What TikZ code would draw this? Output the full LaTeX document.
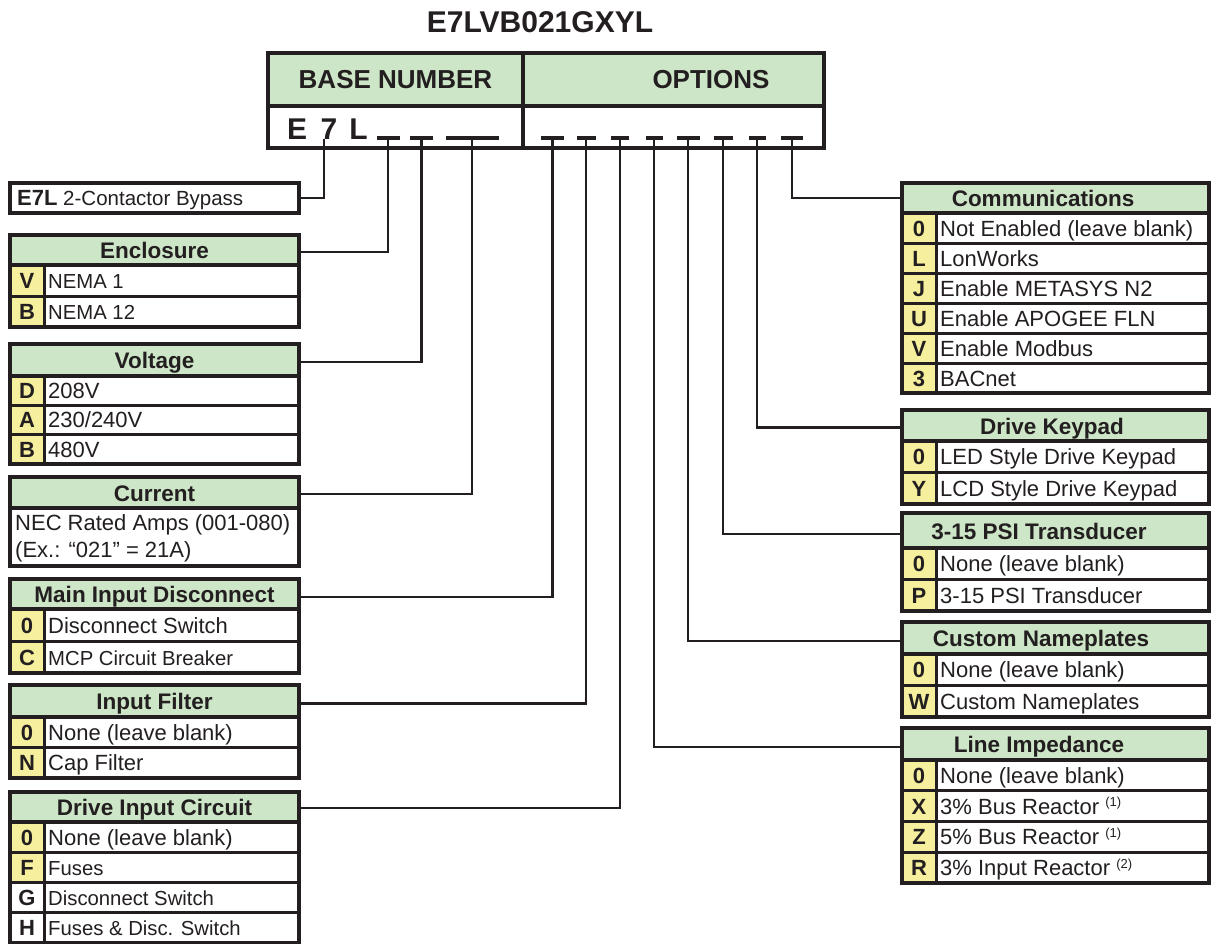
\documentclass[tikz,border=0pt]{standalone}
\usepackage{fontspec}
\setmainfont{Liberation Sans}
\definecolor{ink}{RGB}{35,31,32}
\definecolor{hdrgreen}{RGB}{205,230,199}
\definecolor{keyyellow}{RGB}{246,240,158}
\newcommand{\rowsm}{\fontsize{20.3}{24}\selectfont}
\newcommand{\fnote}[1]{\raisebox{7.5pt}{\fontsize{13}{13}\selectfont(#1)}}
\tikzset{
  frame/.style={draw=ink, line width=4pt},
  sep/.style={draw=ink, line width=3pt},
  wire/.style={draw=ink, line width=2.6pt},
  tick/.style={draw=ink, line width=3.5pt},
  hdrbox/.style={fill=hdrgreen, inner sep=0pt, outer sep=0pt, anchor=north west},
  hdrtext/.style={text=ink, inner sep=0pt, font=\bfseries\fontsize{22.5}{26}\selectfont},
  keytext/.style={text=ink, inner sep=0pt, font=\bfseries\fontsize{22}{26}\selectfont},
  rowtext/.style={text=ink, inner sep=0pt, font=\fontsize{22}{26}\selectfont},
}
% #1 name, #2 left, #3 right, #4 top, #5 header height, #6 row height,
% #7 title, #8 title centre x, #9 rows as key/text/keycolour
\newcommand{\opttable}[9]{%
  \node[hdrbox, minimum width={#3-#2}, minimum height={#5}] (#1) at (#2,#4) {};
  \node[hdrtext, anchor=base] (#1-title) at (#8,{#4+#5/2+8.5}) {#7};
  \foreach[count=\i] \keyk/\rowt/\keyc in {#9}{%
    \pgfmathsetmacro\ya{#4+#5+(\i-1)*#6}
    \pgfmathsetmacro\yb{\ya+#6}
    \pgfmathsetmacro\ym{(\ya+\yb)/2+8}
    \fill[\keyc] (#2,\ya) rectangle ({#2+34},\yb);
    \node[keytext, anchor=base] (#1-key\i) at ({#2+17},\ym) {\keyk};
    \node[rowtext, anchor=base west] (#1-row\i) at ({#2+38},\ym) {\rowt};
    \draw[sep] (#2,\ya) -- (#3,\ya);
    \draw[sep] ({#2+34},\ya) -- ({#2+34},\yb);
    \xdef\nrows{\i}
  }
  \draw[frame] (#2,{#4+#5}) -- (#3,{#4+#5});
  \draw[frame] (#2,#4) rectangle (#3,{#4+#5+\nrows*#6});
}
\begin{document}
\begin{tikzpicture}[x=1pt, y=-1pt]
\useasboundingbox (0,0) rectangle (1212,944);
\fill[white] (0,0) rectangle (1212,944);

% model code title
\node[text=ink, inner sep=0pt, font=\bfseries\fontsize{30}{34}\selectfont] (code) at (540,22) {E7LVB021GXYL};

% base number / options box
\node[hdrbox, minimum width=255, minimum height=53] (hbase) at (268,53) {};
\node[hdrbox, minimum width=301, minimum height=53] (hopt) at (523,53) {};
\node[text=ink, inner sep=0pt, anchor=base, font=\bfseries\fontsize{26}{30}\selectfont] (hbase-t) at (395.5,89) {BASE NUMBER};
\node[text=ink, inner sep=0pt, anchor=base, font=\bfseries\fontsize{26}{30}\selectfont] (hopt-t) at (711,89) {OPTIONS};
\node[text=ink, inner sep=0pt, anchor=base west, font=\bfseries\fontsize{30}{34}\selectfont] (base) at (287,140) {E\hspace{0.45em}7\hspace{0.4em}L};
\draw[frame] (268,106) -- (824,106);
\draw[frame] (523,53) -- (523,148);
\draw[frame, line width=4.5pt] (268,53) rectangle (824,148);

% connector start points (one per code position)
\coordinate (p-e7l)  at (324,139);
\coordinate (p-enc)  at (388,138);
\coordinate (p-volt) at (421.5,138);
\coordinate (p-cur)  at (472,138);
\coordinate (p-mid)  at (552.5,138);
\coordinate (p-filt) at (586,138);
\coordinate (p-dic)  at (620,138);
\coordinate (p-limp) at (654,138);
\coordinate (p-cust) at (688,138);
\coordinate (p-psi)  at (723,138);
\coordinate (p-kpd)  at (757,138);
\coordinate (p-comm) at (792,138);

% blanks under the code positions
\foreach \p/\hw in {enc/11.5, volt/11.5, cur/26.5, mid/11.5, filt/9.5, dic/9, limp/8.5, cust/11.5, psi/9.5, kpd/8.5, comm/11}{
  \draw[tick] ([xshift=-\hw pt]p-\p) -- ([xshift=\hw pt]p-\p);
}

% E7L box
\node[inner sep=0pt, outer sep=0pt, anchor=north west, minimum width=289, minimum height=30] (e7l) at (10,183) {};
\node[text=ink, inner sep=0pt, anchor=base west, font=\fontsize{20.5}{24}\selectfont] (e7l-t) at (17,205.5) {\textbf{\fontsize{22}{26}\selectfont E7L} 2-Contactor Bypass};
\draw[frame] (e7l.north west) rectangle (e7l.south east);

% left tables
\opttable{enc}{10}{299}{235}{30}{31}{Enclosure}{154.5}{V/{\rowsm NEMA 1}/keyyellow, B/{\rowsm NEMA 12}/keyyellow}
\opttable{volt}{10}{299}{344}{32}{29.3}{Voltage}{154.5}{D/208V/keyyellow, A/{230/240V}/keyyellow, B/480V/keyyellow}

\node[hdrbox, minimum width=289, minimum height=31] (cur) at (10,477) {};
\node[hdrtext, anchor=base] (cur-title) at (154.5,501) {Current};
\node[rowtext, anchor=base west] (cur-l1) at (15,530) {NEC Rated Amps (001-080)};
\node[rowtext, anchor=base west] (cur-l2) at (15,557.5) {(Ex.: “021” = 21A)};
\draw[frame] (10,508) -- (299,508);
\draw[frame] (10,477) rectangle (299,566);

\opttable{mid}{10}{299}{579}{30}{32}{Main Input Disconnect}{154.5}{0/Disconnect Switch/keyyellow, C/{\rowsm MCP Circuit Breaker}/keyyellow}
\opttable{filt}{10}{299}{685}{32}{30.5}{Input Filter}{154.5}{0/None (leave blank)/keyyellow, N/Cap Filter/keyyellow}
\opttable{dic}{10}{299}{792}{30}{30.25}{Drive Input Circuit}{154.5}{0/None (leave blank)/keyyellow, F/{\rowsm Fuses}/keyyellow, G/{\rowsm Disconnect Switch}/white, H/{\rowsm Fuses \& Disc. Switch}/white}

% right tables
\opttable{comm}{902}{1209}{183}{30}{30}{Communications}{1043}{0/Not Enabled (leave blank)/keyyellow, L/LonWorks/keyyellow, J/Enable METASYS N2/keyyellow, U/Enable APOGEE FLN/keyyellow, V/Enable Modbus/keyyellow, 3/BACnet/keyyellow}
\opttable{kpd}{902}{1209}{410}{31}{31.5}{Drive Keypad}{1052}{0/LED Style Drive Keypad/keyyellow, Y/LCD Style Drive Keypad/keyyellow}
\opttable{psi}{902}{1209}{513}{35}{31.5}{3-15 PSI Transducer}{1039}{0/None (leave blank)/keyyellow, P/3-15 PSI Transducer/keyyellow}
\opttable{cust}{902}{1209}{622}{32}{31.5}{Custom Nameplates}{1041}{0/None (leave blank)/keyyellow, W/Custom Nameplates/keyyellow}
\opttable{limp}{902}{1209}{728}{32}{30.75}{Line Impedance}{1039}{0/None (leave blank)/keyyellow, X/{3\% Bus Reactor \fnote{1}}/keyyellow, Z/{5\% Bus Reactor \fnote{1}}/keyyellow, R/{3\% Input Reactor \fnote{2}}/keyyellow}

% connectors from each code position to its table
\draw[wire] (p-e7l)  |- (e7l.east);
\draw[wire] (p-enc)  |- ([yshift=-2pt]enc.east);
\draw[wire] (p-volt) |- ([yshift=-2pt]volt.east);
\draw[wire] (p-cur)  |- ([yshift=-1.5pt]cur.east);
\draw[wire] (p-mid)  |- ([yshift=-3pt]mid.east);
\draw[wire] (p-filt) |- ([yshift=-2.5pt]filt.east);
\draw[wire] (p-dic)  |- ([yshift=-1pt]dic.east);
\draw[wire] (p-limp) |- ([yshift=-3pt]limp.west);
\draw[wire] (p-cust) |- ([yshift=-3pt]cust.west);
\draw[wire] (p-psi)  |- ([yshift=-3.5pt]psi.west);
\draw[wire] (p-kpd)  |- ([yshift=-2pt]kpd.west);
\draw[wire] (p-comm) |- (comm.west);
\end{tikzpicture}
\end{document}
